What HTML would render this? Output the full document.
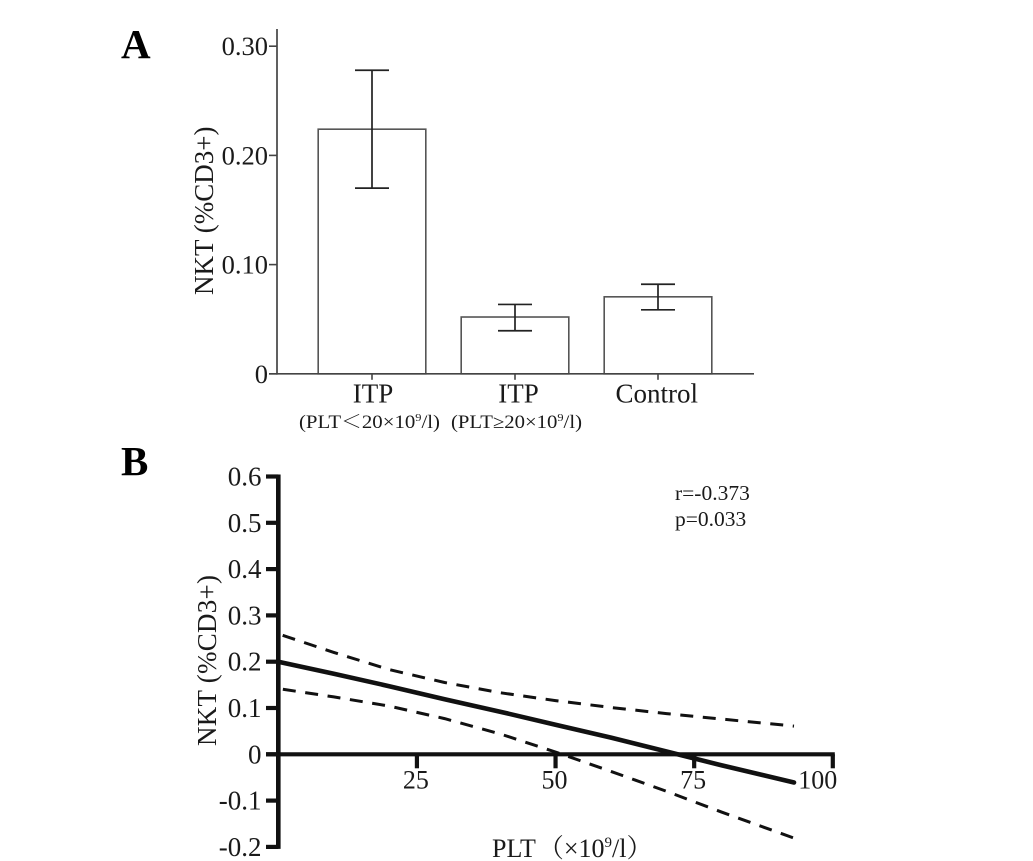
<!DOCTYPE html>
<html lang="en">
<head>
<meta charset="utf-8">
<title>NKT cell charts</title>
<style>
  html, body { margin: 0; padding: 0; background: #fff; }
  svg { display: block; }
  text { font-family: "Liberation Serif", "Noto Serif CJK SC", serif; fill: #1a1a1a; }
</style>
</head>
<body>
<svg id="figure" xmlns="http://www.w3.org/2000/svg" width="1033" height="861" viewBox="0 0 1033 861">
  <rect x="0" y="0" width="1033" height="861" fill="#fff"/>

  <text x="121" y="58" font-size="41" font-weight="bold" style="fill:#000">A</text>
  <text x="121" y="475" font-size="41" font-weight="bold" style="fill:#000">B</text>

  <g id="chartA"></g>
  <text transform="translate(213,295) rotate(-90)" font-size="27">NKT (%CD3+)</text>
  <text x="299" y="428" font-size="18.5" textLength="141" lengthAdjust="spacingAndGlyphs">(PLT＜20×10<tspan font-size="11" dy="-7">9</tspan><tspan dy="7">/l)</tspan></text>
  <text x="451" y="428" font-size="18.5" textLength="131" lengthAdjust="spacingAndGlyphs">(PLT≥20×10<tspan font-size="11" dy="-7">9</tspan><tspan dy="7">/l)</tspan></text>

  <g id="chartB"></g>
  <text transform="translate(216,746) rotate(-90)" font-size="27" textLength="171" lengthAdjust="spacing">NKT (%CD3+)</text>
  <text x="492" y="857" font-size="26">PLT<tspan dx="2">（×10</tspan><tspan font-size="15" dy="-10">9</tspan><tspan dy="10">/l）</tspan></text>
  <text x="675" y="500" font-size="21.5">r=-0.373</text>
  <text x="675" y="526" font-size="21.5">p=0.033</text>
</svg>

<script>
// Panel A data
const barCategories = ['ITP', 'ITP', 'Control'];
const barValues = [0.224, 0.052, 0.0705];
const barErrorHigh = [0.278, 0.0635, 0.082];
const barErrorLow = [0.170, 0.0394, 0.0586];
const barTicks = [0, 0.10, 0.20, 0.30];
const barTickLabels = ['0', '0.10', '0.20', '0.30'];

// Panel B data
const plt = [0, 10, 20, 30, 40, 50, 60, 70, 80, 93];
const fitLine = [0.200, 0.174, 0.147, 0.119, 0.092, 0.064, 0.036, 0.006, -0.024, -0.061];
const upperBand = [0.260, 0.220, 0.183, 0.155, 0.133, 0.116, 0.101, 0.088, 0.076, 0.061];
const lowerBand = [0.142, 0.124, 0.104, 0.077, 0.044, 0.005, -0.037, -0.080, -0.125, -0.181];
const regressionYTicks = [-0.2, -0.1, 0, 0.1, 0.2, 0.3, 0.4, 0.5, 0.6];
const regressionYLabels = ['-0.2', '-0.1', '0', '0.1', '0.2', '0.3', '0.4', '0.5', '0.6'];
const regressionXTicks = [25, 50, 75, 100];
const regressionXLabels = ['25', '50', '75', '100'];

const NS = 'http://www.w3.org/2000/svg';
function make(parent, tag, attrs) {
  const el = document.createElementNS(NS, tag);
  for (const k in attrs) el.setAttribute(k, attrs[k]);
  parent.appendChild(el);
  return el;
}

// Panel A axes
const chartA = document.getElementById('chartA');
const yA = v => 373.8 - v * 1092;
const xAcenter = i => 372 + i * 143;
const barHalf = 53.8;
const capHalf = 17;

barValues.forEach((v, i) => {
  const cx = xAcenter(i);
  const bar = make(chartA, 'rect', { x: cx - barHalf, y: yA(v), width: barHalf * 2, height: yA(0) - yA(v), fill: '#fff', stroke: '#555', 'stroke-width': 1.6 });
  
  

  const stem = make(chartA, 'line', { x1: cx, x2: cx, y1: yA(barErrorHigh[i]), y2: yA(barErrorLow[i]), stroke: '#222', 'stroke-width': 1.7 });
  
  

  const capTop = make(chartA, 'line', { x1: cx - capHalf, x2: cx + capHalf, y1: yA(barErrorHigh[i]), y2: yA(barErrorHigh[i]), stroke: '#222', 'stroke-width': 1.7 });
  
  

  const capLow = make(chartA, 'line', { x1: cx - capHalf, x2: cx + capHalf, y1: yA(barErrorLow[i]), y2: yA(barErrorLow[i]), stroke: '#222', 'stroke-width': 1.7 });
  
  

  const tick = make(chartA, 'line', { x1: cx, x2: cx, y1: yA(0), y2: yA(0) + 6, stroke: '#444', 'stroke-width': 1.6 });
  
  

  const label = make(chartA, 'text', { x: [373, 518.5, 656.7][i], y: 402.5, 'font-size': 27, 'text-anchor': 'middle' });
  label.textContent = barCategories[i];
  
  
});

const axisAy = make(chartA, 'line', { x1: 277, x2: 277, y1: 29, y2: yA(0) + 0.8, stroke: '#444', 'stroke-width': 1.7 });



const axisAx = make(chartA, 'line', { x1: 269, x2: 754, y1: yA(0), y2: yA(0), stroke: '#444', 'stroke-width': 1.7 });



barTicks.forEach((t, i) => {
  const tick = make(chartA, 'line', { x1: 269, x2: 277, y1: yA(t), y2: yA(t), stroke: '#444', 'stroke-width': 1.6 });
  
  

  const label = make(chartA, 'text', { x: 268, y: yA(t) + 9, 'font-size': 26.5, 'text-anchor': 'end' });
  label.textContent = barTickLabels[i];
  
  
});

// Panel B axes
const chartB = document.getElementById('chartB');
const xB = v => 278.3 + v * 5.545;
const yB = v => 754.3 - v * 463;
const pathFrom = series => series.map((v, i) => (i ? 'L' : 'M') + xB(plt[i]).toFixed(1) + ' ' + yB(v).toFixed(1)).join(' ');

const axisBx = make(chartB, 'line', { x1: 266, x2: xB(100) + 2, y1: yB(0), y2: yB(0), stroke: '#111', 'stroke-width': 4.2 });



const axisBy = make(chartB, 'line', { x1: xB(0), x2: xB(0), y1: yB(0.6) - 2, y2: yB(-0.2) + 2, stroke: '#111', 'stroke-width': 4.6 });



regressionYTicks.forEach((t, i) => {
  const tick = make(chartB, 'line', { x1: 266, x2: xB(0), y1: yB(t), y2: yB(t), stroke: '#111', 'stroke-width': 4.2 });
  
  

  const label = make(chartB, 'text', { x: 261.5, y: yB(t) + 9, 'font-size': 27, 'text-anchor': 'end' });
  label.textContent = regressionYLabels[i];
  
  
});

regressionXTicks.forEach((t, i) => {
  const tick = make(chartB, 'line', { x1: xB(t), x2: xB(t), y1: yB(0), y2: yB(0) + 14, stroke: '#111', 'stroke-width': 4.2 });
  
  

  const isLast = i === regressionXTicks.length - 1;
  const label = make(chartB, 'text', { x: isLast ? xB(t) + 4.5 : xB(t) - 1, y: 788.5, 'font-size': 26, 'text-anchor': isLast ? 'end' : 'middle' });
  label.textContent = regressionXLabels[i];
  
  
});

const upper = make(chartB, 'path', { d: pathFrom(upperBand), fill: 'none', stroke: '#111', 'stroke-width': 3, 'stroke-dasharray': '13 9.6', 'stroke-dashoffset': 18 });



const lower = make(chartB, 'path', { d: pathFrom(lowerBand), fill: 'none', stroke: '#111', 'stroke-width': 3, 'stroke-dasharray': '13 9.6', 'stroke-dashoffset': 18 });



const fit = make(chartB, 'path', { d: pathFrom(fitLine), fill: 'none', stroke: '#111', 'stroke-width': 4.6, 'stroke-linecap': 'round' });


</script>
</body>
</html>
